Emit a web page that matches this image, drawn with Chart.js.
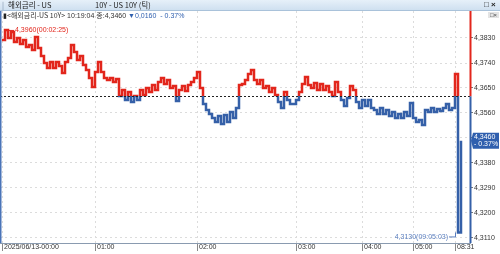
<!DOCTYPE html>
<html><head><meta charset="utf-8">
<script src="https://cdn.jsdelivr.net/npm/chart.js@4/dist/chart.umd.min.js"></script>
<style>
html,body{margin:0;padding:0;background:#fff;overflow:hidden;}
#wrap{position:relative;width:500px;height:254px;}
#c{position:absolute;left:0;top:0;}
#bar{position:absolute;left:0;top:0;width:500px;height:10px;background:linear-gradient(#e6f0f9,#cfe0f0);border-bottom:1px solid #a9c2da;font:7.5px "Noto Sans CJK KR",sans-serif;color:#222;}
#bar span{position:absolute;top:-1px;white-space:nowrap;line-height:11px;}
#info{position:absolute;left:3px;top:10px;font:7px "Liberation Sans","Noto Sans CJK KR",sans-serif;color:#333;white-space:nowrap;line-height:10px;}
#info .k{font-family:"Noto Sans CJK KR",sans-serif;}
#info .b{color:#2f5fae;}
#mini{position:absolute;right:1px;top:12px;width:11px;height:6px;background:#e4e4e4;font:6px "Liberation Sans",sans-serif;color:#444;line-height:6px;text-align:center;}
</style></head>
<body><div id="wrap">
<canvas id="c" width="500" height="254"></canvas>
<div id="bar"><span style="left:2px;color:#7a8fa8">|</span><span style="left:8px">해외금리 - US</span><span style="left:95px">10Y - US 10Y (틱)</span><span style="left:484px;font-family:'Liberation Sans';font-size:8px;font-weight:bold">□ ×</span></div>
<div id="info"><span style="color:#222">▮</span><span class="k">&lt;해외금리-US 10Y&gt;</span> 10:19:04 <span class="k">종</span>:4,3460 <span class="b">▼0,0160 &nbsp;- 0.37%</span></div>
<div id="mini">□×</div>
</div>
<script>
// ---- data (tick chart, one entry per sampled tick) ----
const values = [
4.3823,4.3859,4.3830,4.3852,4.3816,4.3830,4.3808,4.3823,4.3798,4.3805,
4.3787,4.3834,4.3794,4.3765,4.3740,4.3722,4.3744,4.3722,4.3744,4.3729,
4.3704,4.3744,4.3758,4.3805,4.3780,4.3751,4.3765,4.3733,4.3715,4.3686,
4.3654,4.3708,4.3744,4.3708,4.3686,4.3679,4.3686,4.3672,4.3682,4.3621,
4.3643,4.3607,4.3636,4.3600,4.3621,4.3607,4.3643,4.3625,4.3650,4.3636,
4.3661,4.3643,4.3672,4.3686,4.3664,4.3679,4.3650,4.3657,4.3603,4.3643,
4.3657,4.3639,4.3661,4.3672,4.3686,4.3708,4.3650,4.3592,4.3571,4.3556,
4.3542,4.3528,4.3549,4.3520,4.3553,4.3528,4.3564,4.3542,4.3578,4.3661,
4.3664,4.3679,4.3700,4.3715,4.3679,4.3664,4.3679,4.3650,4.3657,4.3636,
4.3650,4.3625,4.3600,4.3578,4.3636,4.3607,4.3592,4.3592,4.3607,4.3636,
4.3664,4.3690,4.3661,4.3650,4.3668,4.3643,4.3664,4.3643,4.3657,4.3636,
4.3621,4.3672,4.3636,4.3607,4.3585,4.3614,4.3657,4.3643,4.3600,4.3578,
4.3607,4.3585,4.3607,4.3578,4.3571,4.3556,4.3578,4.3556,4.3571,4.3549,
4.3564,4.3542,4.3556,4.3542,4.3564,4.3549,4.3596,4.3542,4.3528,4.3535,
4.3517,4.3571,4.3564,4.3578,4.3564,4.3574,4.3567,4.3578,4.3592,4.3571,
4.3578,4.3700,4.3130,4.3460
];
const prevClose = 4.3620;
const lastValue = 4.3460;
const changeText = '- 0.37%';
const xTickIndex = [0, 31, 65, 98, 120, 137, 151];
const xTickLabels = ['2025/06/13-00:00', '01:00', '02:00', '03:00', '04:00', '05:00', '08:31'];
const yTicks = [4.3110, 4.3200, 4.3290, 4.3380, 4.3470, 4.3560, 4.3650, 4.3740, 4.3830];
const maxLabel = '4,3960(00:02:25)';
const minLabel = '4,3130(09:05:03)';

const RED = '#e2261c', BLUE = '#3560a8';
const fmt = v => v.toFixed(4).replace('.', ',');

function splitColor(ctx) {
  const chart = ctx.chart;
  const ca = chart.chartArea;
  if (!ca) return RED;
  const y = chart.scales.y.getPixelForValue(prevClose);
  const g = chart.ctx.createLinearGradient(0, ca.top, 0, ca.bottom);
  const t = Math.min(1, Math.max(0, (y - ca.top) / (ca.bottom - ca.top)));
  g.addColorStop(0, RED); g.addColorStop(t, RED);
  g.addColorStop(t, BLUE); g.addColorStop(1, BLUE);
  return g;
}

const overlay = {
  id: 'overlay',
  afterDatasetsDraw(chart) {
    const c = chart.ctx, ca = chart.chartArea, xs = chart.scales.x, ys = chart.scales.y;
    c.save();
    const yb = ys.getPixelForValue(prevClose);
    c.strokeStyle = '#222'; c.lineWidth = 1; c.setLineDash([2, 2]);
    c.beginPath(); c.moveTo(ca.left, Math.round(yb) + 0.5); c.lineTo(ca.right, Math.round(yb) + 0.5); c.stroke();
    c.setLineDash([]);
    const ax = ca.right + 0.5;
    c.lineWidth = 2;
    c.strokeStyle = RED; c.beginPath(); c.moveTo(ax, ca.top); c.lineTo(ax, yb); c.stroke();
    c.strokeStyle = BLUE; c.beginPath(); c.moveTo(ax, yb); c.lineTo(ax, ca.bottom); c.stroke();
    c.strokeStyle = '#4a74b8'; c.lineWidth = 1.5;
    c.beginPath(); c.moveTo(0.75, ca.top); c.lineTo(0.75, ca.bottom); c.stroke();
    let iMax = 0, iMin = 0;
    values.forEach((v, i) => { if (v > values[iMax]) iMax = i; if (v < values[iMin]) iMin = i; });
    const mx = xs.getPixelForValue(iMax), my = ys.getPixelForValue(values[iMax]);
    c.font = '7px "Liberation Sans", sans-serif';
    c.textBaseline = 'middle';
    c.strokeStyle = RED; c.lineWidth = 1;
    c.beginPath(); c.moveTo(mx, my + 0.5); c.lineTo(mx + 9, my + 0.5); c.stroke();
    c.fillStyle = RED; c.textAlign = 'left';
    c.fillText(maxLabel, mx + 10, my);
    const nx = xs.getPixelForValue(iMin), ny = ys.getPixelForValue(values[iMin]);
    const ty = ny + 4.5;
    c.strokeStyle = '#5b7fbf';
    c.beginPath(); c.moveTo(nx - 9, ty); c.lineTo(nx - 2.5, ty); c.lineTo(nx - 2.5, ny); c.stroke();
    c.fillStyle = '#5b7fbf'; c.textAlign = 'right';
    c.fillText(minLabel, nx - 10, ty);
    const cy = ys.getPixelForValue(lastValue);
    c.fillStyle = '#2f5fae';
    c.beginPath();
    c.moveTo(ca.right + 1, cy);
    c.lineTo(ca.right + 3, cy - 8);
    c.lineTo(499, cy - 8); c.lineTo(499, cy + 8);
    c.lineTo(ca.right + 3, cy + 8); c.closePath(); c.fill();
    c.fillStyle = '#fff'; c.textAlign = 'left';
    c.fillText(fmt(lastValue), ca.right + 4, cy - 3.5);
    c.fillText(changeText, ca.right + 4, cy + 3.5);
    c.restore();
  }
};

new Chart(document.getElementById('c'), {
  type: 'line',
  data: { datasets: [{
    data: values.map((v, i) => ({ x: i, y: v })),
    borderColor: splitColor, borderWidth: 2.5, pointRadius: 0, stepped: true,
    fill: false
  }]},
  options: {
    responsive: false, animation: false,
    layout: { padding: { top: 11, left: 0, right: 0, bottom: 0 } },
    plugins: { legend: { display: false }, tooltip: { enabled: false } },
    scales: {
      x: {
        type: 'linear', min: -0.667, max: 156,
        afterBuildTicks: s => { s.ticks = xTickIndex.map(v => ({ value: v })); },
        afterFit: s => { s.height = 11; },
        ticks: {
          autoSkip: false, maxRotation: 0, align: 'start', labelOffset: 2, padding: -8,
          font: { family: 'Liberation Sans', size: 7 }, color: '#333',
          callback: (v, i) => xTickLabels[i]
        },
        grid: { color: '#dcdcdc', lineWidth: 1, drawTicks: true, tickLength: 8, tickColor: '#888', tickBorderDash: [] },
        border: { display: true, color: '#8a9bb0', width: 1, dash: [2, 3] }
      },
      y: {
        position: 'right', min: 4.3092, max: 4.39272,
        afterBuildTicks: s => { s.ticks = yTicks.map(v => ({ value: v })); },
        afterFit: s => { s.width = 30; },
        ticks: {
          padding: 1, font: { family: 'Liberation Sans', size: 7 }, color: '#333',
          callback: v => (Math.abs(v - 4.347) < 1e-6 ? '' : fmt(v))
        },
        grid: { color: '#dcdcdc', lineWidth: 1, drawTicks: true, tickLength: 3, tickColor: '#777', tickBorderDash: [] },
        border: { display: false, dash: [2, 3] }
      }
    }
  },
  plugins: [overlay]
});
</script>
</body></html>
